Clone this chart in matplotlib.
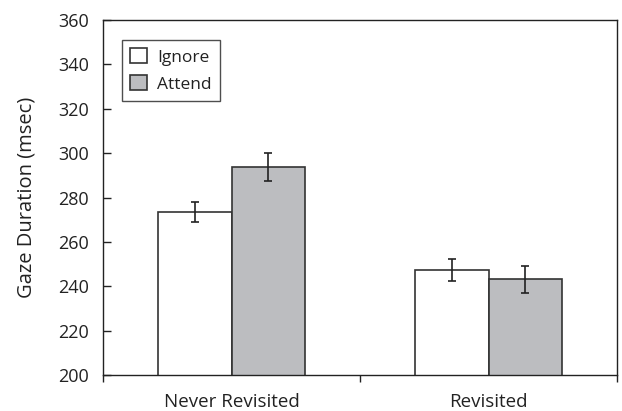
import matplotlib
matplotlib.use("Agg")
import matplotlib.pyplot as plt
import numpy as np

categories = ["Never Revisited", "Revisited"]
series = ["Ignore", "Attend"]
ignore_vals = [273.5, 247.2]
attend_vals = [293.9, 243.1]
ignore_err = [4.7, 5.0]
attend_err = [6.4, 6.0]
yticks = [200, 220, 240, 260, 280, 300, 320, 340, 360]

plt.rcParams['font.family'] = ['Open Sans', 'DejaVu Sans']

fig = plt.figure(figsize=(6.22, 4.11), dpi=100)
ax = fig.add_axes([0.1656, 0.0876, 0.8264, 0.8634])

x = np.arange(len(categories)) + 0.5
w = 0.285
edge = "#333333"
ax.bar(x - w/2, ignore_vals, w, color="white", edgecolor=edge, linewidth=1.2, label="Ignore", zorder=2)
ax.bar(x + w/2, attend_vals, w, color="#bcbdc0", edgecolor=edge, linewidth=1.2, label="Attend", zorder=2)
ax.errorbar(x - w/2, ignore_vals, yerr=ignore_err, fmt="none", ecolor="#222222", elinewidth=1.2, capsize=3, capthick=1.2, zorder=3)
ax.errorbar(x + w/2, attend_vals, yerr=attend_err, fmt="none", ecolor="#222222", elinewidth=1.2, capsize=3, capthick=1.2, zorder=3)

ax.set_xlim(0, 2)
ax.set_ylim(200, 360)
ax.set_yticks(yticks)
ax.set_yticklabels([str(t) for t in yticks], fontsize=13)
ax.tick_params(axis="y", direction="in", length=6, width=1, colors="#222222", labelcolor="#222222", pad=10)

ax.set_xticks([0, 1, 2])
ax.set_xticklabels([])
ax.tick_params(axis="x", direction="out", length=5, width=1, colors="#222222")
for xi, lab in zip(x, categories):
    ax.text(xi, -0.052, lab, transform=ax.get_xaxis_transform(), ha="center", va="top", fontsize=13.5, color="#222222")

for s in ax.spines.values():
    s.set_linewidth(1.0)
    s.set_color("#222222")

ax.set_ylabel("Gaze Duration (msec)", fontsize=14.5, labelpad=16, color="#222222")

leg = ax.legend(loc="upper left", bbox_to_anchor=(0.037, 0.944), fontsize=12.5, frameon=True,
                fancybox=False, edgecolor="#222222", handlelength=0.96, handleheight=0.96,
                handletextpad=0.62, borderpad=0.46, labelspacing=0.55, borderaxespad=0)
leg.get_frame().set_linewidth(1.0)
for t in leg.get_texts():
    t.set_color("#222222")

fig.savefig("out.png", dpi=100)
